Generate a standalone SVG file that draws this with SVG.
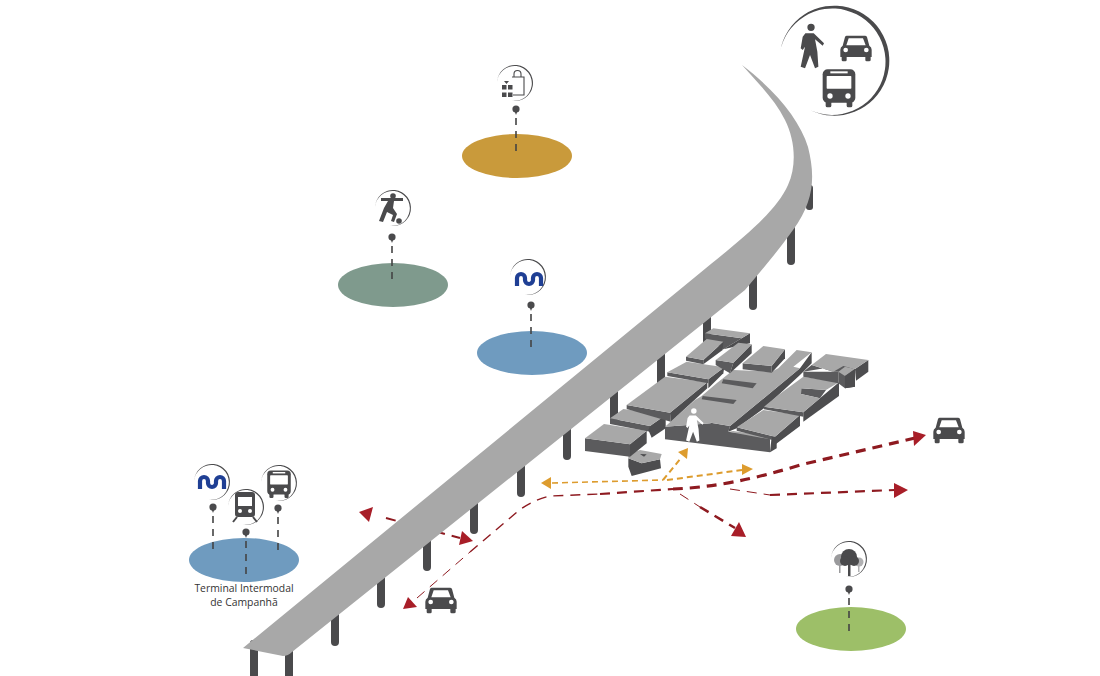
<svg xmlns="http://www.w3.org/2000/svg" width="1100" height="676" viewBox="0 0 1100 676">
<style>
.ic{fill:#4a4a4c}.w{fill:#fff}
.pil{fill:#4a4a4c}
.t{fill:#a8a8a8}.f{fill:#5b5b5d}.s{fill:#4d4d4f}
.dash{stroke:#444;stroke-width:1.6;stroke-dasharray:7 6;fill:none}
.r{fill:none;stroke:#8e1a20;stroke-dasharray:10 7}
.rh{fill:#a81e28}
.o{fill:none;stroke:#dd9c2e;stroke-dasharray:6 4}
.oh{fill:#dd9c2e}
text{font-family:"Open Sans","Noto Sans",sans-serif;font-size:10.4px;fill:#333;text-anchor:middle}
</style>
<defs>
<path id="arc" class="ic" d="M-18,-1A18,18 0 1 1 -4,17.5A17.45,17.45 0 1 0 -18,-1Z"/>
<g id="pin"><circle r="3.6" class="ic"/><path d="M-1.2,3L0,6L1.2,3Z" class="ic"/></g>
<g id="car"><path class="ic" d="M-28,-37H27Q31,-37 33,-33L40,-7Q47,-3 47,5V27H44V36Q44,40 39,40H32Q28,40 28,36V27H-28V36Q-28,40 -32,40H-39Q-43,40 -43,36V27H-47V5Q-47,-3 -40,-7L-33,-33Q-31,-37 -28,-37Z"/><path class="w" d="M-22,-29H21L29,-8H-29Z"/><circle class="w" cx="-31" cy="6" r="7"/><circle class="w" cx="31" cy="6" r="7"/></g>
<g id="bus"><rect class="ic" x="-49" y="-56" width="98" height="100" rx="15"/><rect class="ic" x="-40" y="38" width="17" height="20" rx="5"/><rect class="ic" x="23" y="38" width="17" height="20" rx="5"/><rect class="w" x="-37" y="-36" width="74" height="38" rx="2"/><rect class="w" x="-26" y="-50" width="52" height="6"/><circle class="w" cx="-27" cy="24" r="8"/><circle class="w" cx="27" cy="24" r="8"/></g>
<path id="person" d="M-13,12a11,11 0 1 0 22,0a11,11 0 1 0 -22,0ZM-19,30H6L37,60L33,67L10,48L17,85L20,130L10,135L-5,95L-20,135L-33,130L-20,70L-27,80L-33,75L-27,40Z"/>
<path id="metro" d="M-12,7V-1A4,4 0 0 1 -4,-1V1A4,4 0 0 0 4,1V-1A4,4 0 0 1 12,-1V7" fill="none" stroke="#1f3f94" stroke-width="4.200"/>
</defs>

<g id="connectors">
<path class="r" stroke-width="2" d="M386,518L460,538"/>
<polygon class="rh" points="359,512 373,507 369,522"/>
<polygon class="rh" points="473,541 462,531 459,545"/>
<path class="r" stroke-width="1" d="M417,598L470,552"/>
<polygon class="rh" points="403,609 408,597 417,607"/>
<path class="r" stroke-width="1.400" d="M470,552L517,512Q532,500 550,496L600,494"/>
<path class="r" stroke-width="2.200" d="M600,494L673,489"/>
<path class="r" stroke-width="3.200" d="M673,489Q730,487 800,465L915,438"/>
<polygon class="rh" points="926,435 913,431 914,446"/>
<path class="r" stroke-width="1" d="M730,489L770,495"/>
<path class="r" stroke-width="2.200" d="M770,495L895,490"/>
<polygon class="rh" points="908,490 894,483 894,498"/>
<path class="r" stroke-width="1" d="M680,494L700,507"/>
<path class="r" stroke-width="2.600" d="M700,507L735,528"/>
<polygon class="rh" points="746,537 731,536 739,522"/>
<path class="o" stroke-width="1.600" d="M552,483L663,480"/>
<polygon class="oh" points="541,483 551,477 551,489"/>
<path class="o" stroke-width="2" d="M663,480L681,458"/>
<polygon class="oh" points="688,448 678,452 687,459"/>
<path class="o" stroke-width="2" d="M667,480L742,470"/>
<polygon class="oh" points="753,469 742,464 742,475"/>
</g>

<g id="pillars">
<rect class="pil" x="250" y="640" width="8" height="38" rx="3"/>
<rect class="pil" x="285" y="645" width="8" height="35" rx="3"/>
<rect class="pil" x="331" y="600" width="8" height="46" rx="4"/>
<rect class="pil" x="377" y="565" width="8" height="43" rx="4"/>
<rect class="pil" x="423" y="530" width="8" height="41" rx="4"/>
<rect class="pil" x="470" y="495" width="8" height="39" rx="4"/>
<rect class="pil" x="517" y="460" width="8" height="37" rx="4"/>
<rect class="pil" x="563" y="420" width="8" height="40" rx="4"/>
<rect class="pil" x="610" y="385" width="8" height="37" rx="4"/>
<rect class="pil" x="657" y="345" width="8" height="41" rx="4"/>
<rect class="pil" x="703" y="305" width="8" height="41" rx="4"/>
<rect class="pil" x="749" y="270" width="8" height="40" rx="4"/>
<rect class="pil" x="787" y="225" width="8" height="40" rx="4"/>
<rect class="pil" x="806" y="185" width="7" height="25" rx="3"/>
</g>

<g id="road"><path fill="#a8a8a8" d="M243,648L700,273C730,248 775,215 788,185C797,165 795,140 785,120C775,100 760,85 742,65C775,90 800,120 808,147C815,175 815,200 793,230C775,255 760,272 745,290L292,652Q288,656 283,656Z"/></g>

<g id="block" transform="translate(580,320) scale(.33333)">
<polygon class="s" points="145,415 185,430 240,418 243,445 155,468 145,440"/>
<polygon class="t" points="145,402 180,390 245,402 240,418 185,430 145,415"/>
<polygon class="s" points="180,402 200,403 192,410"/>
<polygon class="f" points="15,355 150,373 150,410 15,393"/>
<polygon class="s" points="150,373 200,332 200,370 150,410"/>
<polygon class="t" points="15,355 72,312 200,332 150,373"/>
<polygon class="f" points="90,295 210,318 210,335 90,312"/>
<polygon class="s" points="210,318 257,285 257,325 215,353 205,330"/>
<polygon class="t" points="90,295 130,267 257,285 210,318"/>

<polygon class="f" points="255,320 255,358 570,397 570,350 445,335 450,318 392,308 392,310"/>
<polygon class="s" points="450,318 660,145 695,97 695,130 660,165 552,265 470,325 445,335"/>
<polygon class="s" points="570,397 575,350 590,350 590,385"/>
<polygon class="t" points="255,320 392,310 392,308 450,318 660,145 640,140 695,97 650,90 595,145 575,155 460,150 410,190 365,228 345,240"/>
<polygon class="t" points="445,335 460,333 575,350 570,358"/>
<polygon class="f" points="368,228 470,240 460,252 365,238"/>
<polygon class="f" points="430,178 530,190 518,205 425,190"/>

<polygon class="f" points="140,255 270,278 272,305 140,267"/>
<polygon class="s" points="270,278 382,187 382,205 272,305"/>
<polygon class="t" points="140,255 255,170 382,187 270,278"/>
<polygon class="f" points="262,157 385,178 385,190 262,168"/>
<polygon class="s" points="385,178 433,142 430,160 385,205"/>
<polygon class="t" points="262,157 320,125 433,142 385,178"/>
<polygon class="f" points="375,40 485,55 430,88 375,55"/>
<polygon class="s" points="485,55 510,40 510,70 430,88"/>
<polygon class="t" points="375,40 400,25 510,40 485,55"/>
<polygon class="f" points="318,110 370,120 370,133 318,122"/>
<polygon class="s" points="370,120 430,65 428,90 370,133"/>
<polygon class="t" points="318,110 380,57 430,65 370,120"/>
<polygon class="f" points="407,120 460,128 450,160 407,135"/>
<polygon class="s" points="460,128 515,73 515,100 450,160"/>
<polygon class="t" points="407,120 475,68 515,73 460,128"/>
<polygon class="f" points="488,130 575,138 575,158 488,148"/>
<polygon class="s" points="575,138 615,88 615,115 575,158"/>
<polygon class="t" points="488,130 550,78 615,88 575,138"/>

<polygon class="f" points="470,322 585,350 585,362 470,332"/>
<polygon class="s" points="585,350 660,285 660,318 580,378 575,350"/>
<polygon class="t" points="470,322 550,270 660,285 585,350"/>
<polygon class="f" points="552,260 670,277 670,290 552,268"/>
<polygon class="s" points="670,277 777,187 777,228 670,305"/>
<polygon class="f" points="663,205 738,210 720,235 663,222"/>
<polygon class="t" points="552,260 595,225 670,170 777,187 738,210 665,205 663,222 720,235 670,277"/>

<polygon class="f" points="670,155 695,135 760,155 775,155 775,190 795,205 825,200 825,147 790,135"/>
<polygon class="f" points="670,155 670,170 775,190 775,155"/>
<polygon class="s" points="825,147 865,120 865,155 828,182"/>
<polygon class="t" points="695,135 738,102 865,120 825,147 790,138 760,155"/>
<polygon class="t" points="775,155 795,140 825,147 795,168"/>
<polygon class="s" points="795,168 825,147 825,200 795,205"/>
<use href="#person" class="w" transform="translate(343,264) scale(.75)"/>
</g>

<g id="node-shopping">
<ellipse cx="517" cy="156" rx="55" ry="22" fill="#c99a3b"/>
<use href="#arc" x="515" y="83"/>
<use href="#pin" x="516" y="109"/>
<path class="dash" d="M516,118V155"/>
<path d="M512,77H524V95H513M514,77V74a3.500,3.500 0 0 1 7,0V77" fill="none" stroke="#4a4a4c" stroke-width="1.100"/>
<path class="ic" d="M502,85h4.500v4.500h-4.500ZM508,85h4.500v4.500h-4.500ZM502,92.500h4.500v4.500h-4.500ZM508,92.500h4.500v4.500h-4.500ZM504,81h5l-2.500,3Z"/>
</g>

<g id="node-sport">
<ellipse cx="393" cy="285" rx="55" ry="22" fill="#7f9a8d"/>
<use href="#arc" x="393" y="208"/>
<use href="#pin" x="392" y="237"/>
<path class="dash" d="M392,246V283"/>
<circle class="ic" cx="393" cy="196" r="2.800"/>
<path class="ic" d="M381,198H403V201H394L393,208L397,214L394,222L391,221L393,215L387,212L383,222L379,221L384,208L388,201H381Z"/>
<circle class="ic" cx="399" cy="221" r="2.800"/>
</g>

<g id="node-metro">
<ellipse cx="532" cy="353" rx="55" ry="22" fill="#6f9bbf"/>
<use href="#arc" x="528" y="277"/>
<use href="#metro" x="529" y="279"/>
<use href="#pin" x="531" y="305"/>
<path class="dash" d="M531,314V350"/>
</g>

<g id="node-terminal">
<ellipse cx="244" cy="560" rx="55" ry="22" fill="#6f9bbf"/>
<use href="#arc" x="212" y="482"/>
<use href="#metro" x="212" y="482"/>
<use href="#pin" x="213" y="507"/>
<path class="dash" d="M213,516V553"/>
<use href="#arc" x="246" y="507"/>
<rect class="ic" x="235" y="492" width="20" height="25" rx="3"/>
<rect class="w" x="238" y="497" width="14" height="9"/>
<circle class="w" cx="240" cy="511" r="2"/><circle class="w" cx="250" cy="511" r="2"/>
<path d="M237,517L233,522M253,517L257,522" stroke="#4a4a4c" stroke-width="2" fill="none"/>
<use href="#pin" x="246" y="532"/>
<path class="dash" d="M246,541V577"/>
<use href="#arc" x="279" y="483"/>
<use href="#bus" transform="translate(279,484) scale(.24)"/>
<use href="#pin" x="278" y="508"/>
<path class="dash" d="M278,517V553"/>
<text x="244" y="592">Terminal Intermodal</text>
<text x="244" y="606">de Campanhã</text>
</g>

<g id="node-park">
<ellipse cx="851" cy="629" rx="55" ry="22" fill="#9dbf68"/>
<use href="#arc" x="849" y="559"/>
<circle cx="840" cy="560" r="6" fill="#9a9a9c"/><circle cx="859" cy="562" r="4.500" fill="#b0b0b2"/>
<rect x="839" y="564" width="1.500" height="9" fill="#9a9a9c"/><rect x="858" y="565" width="1.500" height="7" fill="#b0b0b2"/>
<circle cx="849" cy="557" r="8" class="ic"/><circle cx="845" cy="561" r="5" class="ic"/><circle cx="854" cy="561" r="5" class="ic"/><rect x="848" y="562" width="2.500" height="14" class="ic"/>
<use href="#pin" x="849" y="589"/>
<path class="dash" d="M849,598V636"/>
</g>

<g id="node-modes">
<path class="ic" d="M780,52A55,55 0 1 1 810,110A53.200,53.200 0 1 0 780,52Z"/>
<use href="#person" class="ic" transform="translate(811.700,23.300) scale(.3333)"/>
<use href="#car" transform="translate(856,48) scale(.3333)"/>
<use href="#bus" transform="translate(839,88) scale(.3333)"/>
</g>

<g id="car-left"><use href="#car" transform="translate(441,600) scale(.3333)"/></g>
<g id="car-right"><use href="#car" transform="translate(949,430) scale(.3333)"/></g>
</svg>
